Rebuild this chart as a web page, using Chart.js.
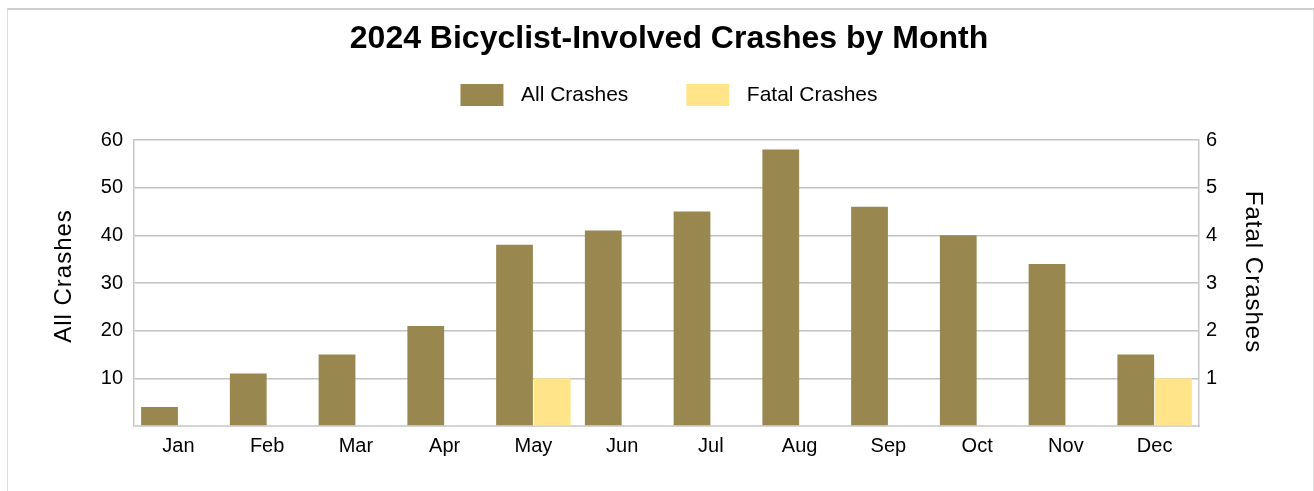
<!DOCTYPE html>
<html>
<head>
<meta charset="utf-8">
<title>2024 Bicyclist-Involved Crashes by Month</title>
<script src="https://cdn.jsdelivr.net/npm/chart.js@4.4.1/dist/chart.umd.min.js"></script>
<style>
  html, body { margin: 0; padding: 0; background: #fff; }
  #wrap { position: relative; width: 1314px; height: 491px; overflow: hidden; }
  #frame { position: absolute; left: 7px; top: 8px; width: 1305px; height: 600px;
           border-top: 2px solid #cfcfcf; border-left: 1px solid #dedede; border-right: 1px solid #dedede; }
  #chart { position: absolute; left: 0; top: 0; }
</style>
</head>
<body>
<div id="wrap">
  <div id="frame"></div>
  <canvas id="chart" width="1314" height="491"></canvas>
</div>
<script>
const months = ['Jan', 'Feb', 'Mar', 'Apr', 'May', 'Jun', 'Jul', 'Aug', 'Sep', 'Oct', 'Nov', 'Dec'];
const allCrashes = [4, 11, 15, 21, 38, 41, 45, 58, 46, 40, 34, 15];
const fatalCrashes = [0, 0, 0, 0, 1, 0, 0, 0, 0, 0, 0, 1];
const allTicks = [0, 10, 20, 30, 40, 50, 60];
const fatalTicks = [0, 1, 2, 3, 4, 5, 6];

const brown = '#988850';
const yellow = '#ffe48a';

Chart.defaults.font.family = "'Liberation Sans', Arial, sans-serif";
Chart.defaults.color = '#000';

// axis titles are slightly letter-spaced and sit a bit above center
const axisTitleTweak = {
    id: 'axisTitleTweak',
    beforeDraw(chart) {
        [['y', -7], ['y1', -11]].forEach(([id, dy]) => {
            const scale = chart.scales[id];
            if (!scale || scale._tweaked) return;
            const drawTitle = scale.drawTitle;
            scale.drawTitle = function () {
                const ctx = this.ctx;
                ctx.save();
                ctx.letterSpacing = '1px';
                ctx.translate(0, dy);
                drawTitle.call(this);
                ctx.restore();
            };
            scale._tweaked = true;
        });
    }
};

const hideZero = v => v === 0 ? '' : v;

const chart = new Chart(document.getElementById('chart'), {
    type: 'bar',
    data: {
        labels: months,
        datasets: [
            { label: 'All Crashes', data: allCrashes, backgroundColor: brown, yAxisID: 'y' },
            { label: 'Fatal Crashes', data: fatalCrashes, backgroundColor: yellow, yAxisID: 'y1' }
        ]
    },
    options: {
        responsive: false,
        animation: false,
        layout: { padding: { left: 24, top: 0, right: 0, bottom: 0 } },
        datasets: { bar: { categoryPercentage: 0.85, barPercentage: 0.975 } },
        plugins: {
            title: {
                display: true,
                text: '2024 Bicyclist-Involved Crashes by Month',
                color: '#000',
                font: { size: 32, weight: 'bold', lineHeight: 1.2 },
                padding: { top: 20, bottom: -32.4 }
            },
            legend: {
                labels: {
                    boxWidth: 43,
                    boxHeight: 22,
                    padding: 58,
                    color: '#000',
                    font: { size: 21 },
                    generateLabels: c => Chart.defaults.plugins.legend.labels.generateLabels(c)
                        .map(item => ({ ...item, text: '\u2004' + item.text }))
                }
            },
            // empty spacer between legend and plot
            subtitle: { display: true, text: '', weight: 100, font: { size: 20, lineHeight: 1.2 }, padding: 0 },
            tooltip: { enabled: false }
        },
        scales: {
            x: {
                afterFit: s => { s.height = 65; },
                grid: { display: false, drawTicks: false },
                border: { display: true, color: '#d4d4d4', width: 2 },
                ticks: { padding: 8, color: '#000', font: { size: 20 }, maxRotation: 0, autoSkip: false }
            },
            y: {
                position: 'left',
                min: 0,
                max: 60,
                afterFit: s => { s.width = 110; },
                afterBuildTicks: s => { s.ticks = allTicks.map(v => ({ value: v })); },
                grid: { color: '#c2c2c2', lineWidth: 1.5, drawTicks: false },
                border: { display: true, color: '#c8c8c8', width: 1.5 },
                ticks: { padding: 11, color: '#000', font: { size: 20 }, callback: hideZero },
                title: { display: true, text: 'All Crashes', color: '#000', font: { size: 24 }, padding: { top: 26, bottom: 0 } }
            },
            y1: {
                position: 'right',
                min: 0,
                max: 6,
                afterFit: s => { s.width = 115; },
                afterBuildTicks: s => { s.ticks = fatalTicks.map(v => ({ value: v })); },
                grid: { drawOnChartArea: false, drawTicks: false },
                border: { display: true, color: '#c8c8c8', width: 1.5 },
                ticks: { padding: 7, color: '#000', font: { size: 20 }, callback: hideZero },
                title: { display: true, text: 'Fatal Crashes', color: '#000', font: { size: 24 }, padding: { top: 47, bottom: 0 } }
            }
        }
    },
    plugins: [axisTitleTweak]
});
</script>
</body>
</html>
